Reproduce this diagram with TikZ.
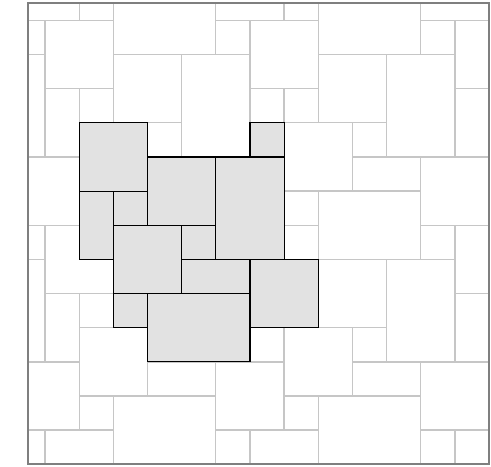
\documentclass[tikz,border=0pt]{standalone}
\usepackage{tikz}
\usepackage{xcolor}

\definecolor{jointgray}{HTML}{C6C6C6}
\definecolor{framegray}{HTML}{7F7F7F}
\definecolor{slabfill}{HTML}{E2E2E2}

\begin{document}
\begin{tikzpicture}[x=0.5cm, y=-0.5cm,
    joint/.style={draw=jointgray, line width=0.55pt},
    slab/.style={draw=black, fill=slabfill, line width=0.5pt},
    border/.style={draw=framegray, line width=0.7pt}]
\useasboundingbox (-1.321,-0.597) rectangle (13.059,13.073);
% repeating floor pattern, period 6 x 6
\begin{scope}
\clip (-0.5,-0.5) rectangle (13,13);
\foreach \i in {-6,0,6,12}{
  \foreach \j in {-6,0,6,12}{
    \foreach \u/\v/\w/\h in {0/0/2/2, 0/2/1/2, 1/2/1/1, 2/1/2/2,
        2/-1/3/2, 4/1/2/3, 5/0/1/1, 1/3/2/2, 3/3/1/1, 3/4/2/1,
        5/4/2/2, 1/5/1/1}
      \draw[joint] (\i+\u,\j+\v) rectangle ++(\w,\h);
  }
}
\end{scope}
% highlighted tiles
\foreach \u/\v/\w/\h in {1/3/2/2, 3/4/2/2, 5/4/2/3, 6/3/1/1,
    1/5/1/2, 2/5/1/1, 2/6/2/2, 4/6/1/1, 4/7/2/1, 6/7/2/2,
    2/8/1/1, 3/8/3/2}
  \draw[slab] (\u,\v) rectangle ++(\w,\h);
\draw[border] (-0.5,-0.5) rectangle (13,13);
\end{tikzpicture}
\end{document}
